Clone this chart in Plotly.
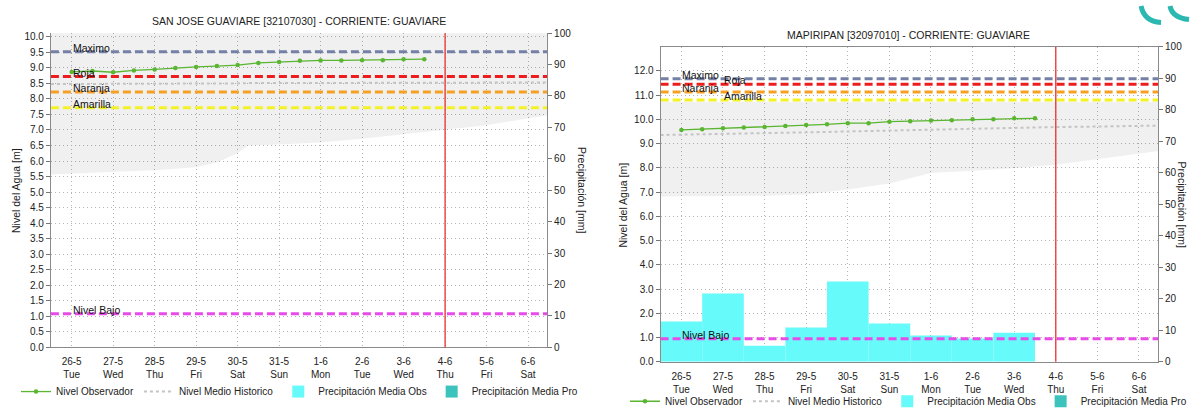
import pandas as pd
import plotly.graph_objects as go

W, H = 1192, 416

# ---- data ----
dias = ["2020-05-26", "2020-05-27", "2020-05-28", "2020-05-29", "2020-05-30", "2020-05-31",
        "2020-06-01", "2020-06-02", "2020-06-03", "2020-06-04", "2020-06-05", "2020-06-06"]
x_inicio = "2020-05-25 12:00"
x_fin = "2020-06-06 11:00"
fecha_actual = "2020-06-04"

obs_horas = pd.date_range("2020-05-26", periods=18, freq="12h")
sj_nivel = [8.87, 8.90, 8.86, 8.92, 8.95, 9.00, 9.03, 9.06, 9.09, 9.16, 9.19, 9.23,
            9.24, 9.24, 9.25, 9.25, 9.28, 9.28]
mp_nivel = [9.56, 9.59, 9.63, 9.66, 9.68, 9.72, 9.76, 9.79, 9.84, 9.84, 9.90, 9.92,
            9.95, 9.96, 10.00, 10.00, 10.04, 10.04]

# historic band (min / max) and historic mean
sj_banda_fechas = ["2020-05-25 12:00", "2020-05-26", "2020-05-27", "2020-05-28", "2020-05-29",
                   "2020-05-29 12:00", "2020-05-30", "2020-05-30 06:00", "2020-05-31", "2020-06-01",
                   "2020-06-02", "2020-06-03", "2020-06-04", "2020-06-05", "2020-06-06", "2020-06-06 12:00"]
sj_banda_min = [5.57, 5.60, 5.65, 5.70, 5.80, 5.95, 6.25, 6.50, 6.53, 6.60, 6.72, 6.86, 6.99, 7.15, 7.38, 7.48]
sj_banda_max = [10.6] * 16
sj_medio = [8.48, 8.48, 8.49, 8.49, 8.50, 8.50, 8.50, 8.51, 8.51, 8.52, 8.52, 8.52, 8.53, 8.53, 8.53, 8.53]

mp_banda_fechas = ["2020-05-25 12:00", "2020-05-26", "2020-05-27", "2020-05-28", "2020-05-29",
                   "2020-05-30", "2020-05-31", "2020-06-01", "2020-06-02", "2020-06-03",
                   "2020-06-04", "2020-06-05", "2020-06-06", "2020-06-06 12:00"]
mp_banda_min = [6.82, 6.82, 6.83, 6.85, 6.90, 7.10, 7.35, 7.78, 7.88, 7.98, 8.12, 8.36, 8.60, 8.70]
mp_banda_max = [10.72] * 14
mp_medio = [9.35, 9.37, 9.40, 9.43, 9.46, 9.50, 9.54, 9.57, 9.60, 9.64, 9.68, 9.70, 9.72, 9.74]

# precipitation (mm)
pp_fechas = ["2020-05-26", "2020-05-27", "2020-05-28", "2020-05-29", "2020-05-30",
             "2020-05-31", "2020-06-01", "2020-06-02", "2020-06-03"]
sj_pp_obs = [0, 0, 0, 0, 0, 0, 0, 0, 0]
mp_pp_obs = [12.8, 21.7, 5.1, 10.9, 25.5, 12.2, 8.4, 7.4, 9.2]
pp_pro_fechas = ["2020-06-04", "2020-06-05", "2020-06-06"]
sj_pp_pro = [0, 0, 0]
mp_pp_pro = [0, 0, 0]

# alert thresholds
umbral_nombres = ["Maximo", "Roja", "Naranja", "Amarilla", "Nivel Bajo"]
umbral_colores = ["#7480a6", "#ee1c1c", "#f5a023", "#f2f224", "#e84ce8"]
sj_umbrales = [9.52, 8.72, 8.22, 7.72, 1.08]
mp_umbrales = [11.67, 11.44, 11.12, 10.79, 0.95]

# ---- figure ----
FONT = "Liberation Sans, Arial, sans-serif"
fig = go.Figure()


def px(x):
    return x / W


def py(y):
    return 1 - y / H


def estacion(xa, ya_pp, ya_lvl, leyenda, nivel, b_fechas, b_min, b_max, medio,
             pp_obs, pp_pro, umbrales, etiqueta_x):
    fig.add_trace(go.Bar(x=pp_fechas, y=pp_obs, width=86400000, marker=dict(color="#66fafa", line_width=0),
                         name="Precipitación Media Obs", xaxis=xa, yaxis=ya_pp, legend=leyenda, legendrank=3))
    fig.add_trace(go.Bar(x=pp_pro_fechas, y=pp_pro, width=86400000, marker=dict(color="#3cc3bd", line_width=0),
                         name="Precipitación Media Pro", xaxis=xa, yaxis=ya_pp, legend=leyenda, legendrank=4))
    fig.add_trace(go.Scatter(x=b_fechas, y=b_max, mode="lines", line=dict(width=0), showlegend=False,
                             hoverinfo="skip", xaxis=xa, yaxis=ya_lvl))
    fig.add_trace(go.Scatter(x=b_fechas, y=b_min, mode="lines", line=dict(width=0), fill="tonexty",
                             fillcolor="rgba(0,0,0,0.06)", showlegend=False, hoverinfo="skip",
                             xaxis=xa, yaxis=ya_lvl))
    fig.add_trace(go.Scatter(x=b_fechas, y=medio, mode="lines", line=dict(color="#c4c4c4", width=2, dash="3px,3px"),
                             name="Nivel Medio Historico", xaxis=xa, yaxis=ya_lvl, legend=leyenda, legendrank=2))
    for nombre, color, valor, ex in zip(umbral_nombres, umbral_colores, umbrales, etiqueta_x):
        fig.add_trace(go.Scatter(x=[x_inicio, x_fin], y=[valor, valor], mode="lines",
                                 line=dict(color=color, width=3, dash="8px,4px"), showlegend=False,
                                 name=nombre, xaxis=xa, yaxis=ya_lvl))
        fig.add_annotation(x=ex, y=valor, xref=xa, yref=ya_lvl, text=nombre, showarrow=False,
                           xanchor="left", yanchor="middle", yshift=4, xshift=-1,
                           font=dict(size=10.5, color="#111", family=FONT))
    fig.add_trace(go.Scatter(x=obs_horas, y=nivel, mode="lines+markers",
                             line=dict(color="#5ab531", width=1.3), marker=dict(size=4.5, color="#5ab531"),
                             name="Nivel Observador", xaxis=xa, yaxis=ya_lvl, legend=leyenda, legendrank=1))
    fig.add_shape(type="line", x0=fecha_actual, x1=fecha_actual, y0=0, y1=1, xref=xa,
                  yref=ya_lvl + " domain", line=dict(color="#e83030", width=1.3), layer="above")


estacion("x", "y", "y2", "legend", sj_nivel, sj_banda_fechas, sj_banda_min, sj_banda_max, sj_medio,
         sj_pp_obs, sj_pp_pro, sj_umbrales, [dias[0]] * 5)
estacion("x2", "y3", "y4", "legend2", mp_nivel, mp_banda_fechas, mp_banda_min, mp_banda_max, mp_medio,
         mp_pp_obs, mp_pp_pro, mp_umbrales, [dias[0], dias[1], dias[0], dias[1], dias[0]])

ticktext = [f"{d.day}-{d.month}<br>{d.strftime('%a')}" for d in pd.to_datetime(dias)]
tickfont = dict(size=10, color="#222", family=FONT)
grid = dict(showgrid=True, gridcolor="#b4b4b4", griddash="1px,3px", gridwidth=1)
xcomun = dict(type="date", range=[x_inicio, x_fin], tickvals=dias, ticktext=ticktext, tickfont=tickfont,
              showline=True, linecolor="#8a8a8a", ticks="", zeroline=False, ticklabelstandoff=5, **grid)
ycomun = dict(tickfont=tickfont, ticks="outside", ticklen=4, tickcolor="#777", showline=True,
              linecolor="#8a8a8a", zeroline=False)

leyenda_font = dict(size=10, family=FONT, color="#222")
fig.update_layout(
    width=W, height=H, margin=dict(l=0, r=0, t=0, b=0),
    paper_bgcolor="white", plot_bgcolor="white", barmode="overlay",
    font=dict(family=FONT, color="#222"),
    xaxis=dict(domain=[px(51), px(548)], anchor="y", **xcomun),
    yaxis=dict(domain=[py(352.3), py(28)], range=[0, 100], dtick=10, side="right", anchor="x",
               showgrid=False, **ycomun),
    yaxis2=dict(overlaying="y", side="left", anchor="x", range=[0, 10.12], dtick=0.5, tickformat=".1f",
                **grid, **ycomun),
    xaxis2=dict(domain=[px(661.7), px(1160)], anchor="y3", mirror=True, **xcomun),
    yaxis3=dict(domain=[py(367.3), py(42.3)], range=[0, 100], dtick=10, side="right", anchor="x2",
                showgrid=False, **ycomun),
    yaxis4=dict(overlaying="y3", side="left", anchor="x2", range=[0, 12.98], dtick=1, tickformat=".1f",
                **grid, **ycomun),
    legend=dict(orientation="h", x=px(300), xanchor="center", y=py(398), yanchor="middle",
                font=leyenda_font, bgcolor="rgba(0,0,0,0)", traceorder="normal", itemwidth=30),
    legend2=dict(orientation="h", x=px(910), xanchor="center", y=py(408), yanchor="middle",
                 font=leyenda_font, bgcolor="rgba(0,0,0,0)", traceorder="normal", itemwidth=30),
)

titulos = [
    ("SAN JOSE GUAVIARE [32107030] - CORRIENTE: GUAVIARE", 299.5, 15),
    ("MAPIRIPAN [32097010] - CORRIENTE: GUAVIARE", 910.5, 30),
]
for texto, tx, ty in titulos:
    fig.add_annotation(x=px(tx), y=py(ty), xref="paper", yref="paper", text=texto, showarrow=False,
                       xanchor="center", yanchor="middle", font=dict(size=10.5, family=FONT, color="#222"))

ejes = [
    ("Nivel del Agua [m]", 16, 190, -90),
    ("Precipitación [mm]", 583, 190, 90),
    ("Nivel del Agua [m]", 624, 205, -90),
    ("Precipitación [mm]", 1184, 205, 90),
]
for texto, tx, ty, ang in ejes:
    fig.add_annotation(x=px(tx), y=py(ty), xref="paper", yref="paper", text=texto, showarrow=False,
                       textangle=ang, xanchor="center", yanchor="middle",
                       font=dict(size=10.5, family=FONT, color="#222"))

# partial logo in the top right corner (kept inside the page)
logo = (f"M {px(1143)},{py(0)} Q {px(1146)},{py(16)} {px(1163)},{py(17)} "
        f"M {px(1172)},{py(0)} Q {px(1174)},{py(12)} {px(1191)},{py(14)}")
fig.add_shape(type="path", path=logo, xref="paper", yref="paper",
              line=dict(color="#2bb8b0", width=5), layer="above")

# the page body has a default 8px margin; drop it so the figure fills the window
fig.write_html("out.html", config={"displayModeBar": False},
               post_script="document.body.style.margin='0';document.body.style.overflow='hidden';")
